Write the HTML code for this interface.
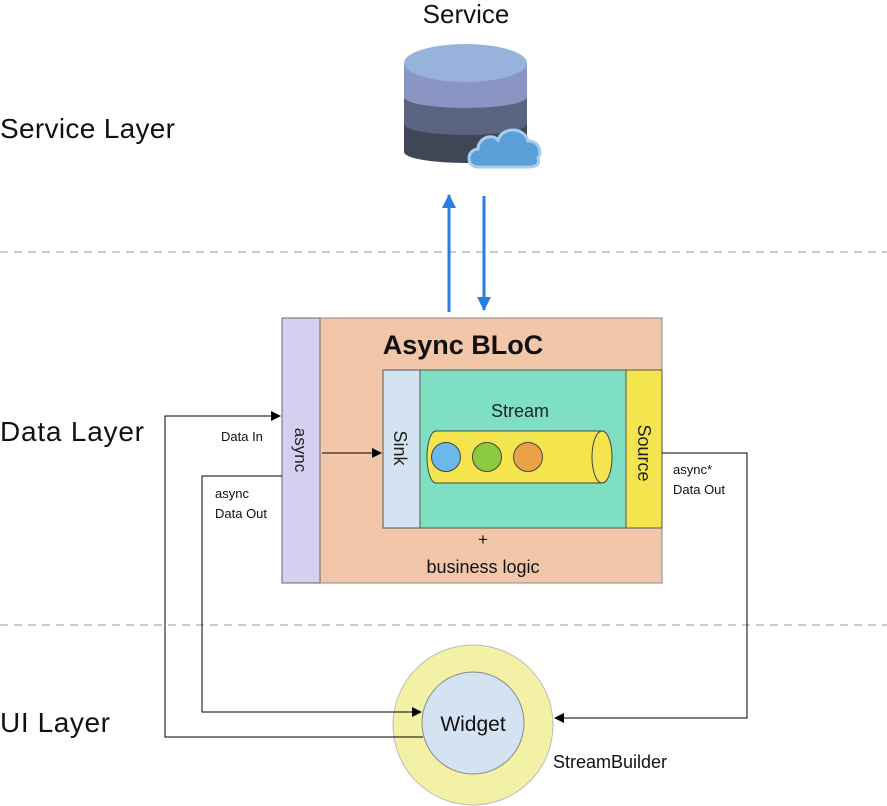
<!DOCTYPE html>
<html><head><meta charset="utf-8"><style>
body{margin:0;background:#fff}
svg{display:block}
text{font-family:"Liberation Sans",sans-serif}
</style></head><body>
<svg width="887" height="806" viewBox="0 0 887 806" xmlns="http://www.w3.org/2000/svg">
<defs>
<marker id="ab" markerWidth="10" markerHeight="10" refX="9" refY="5" orient="auto" markerUnits="userSpaceOnUse"><path d="M0,0 L10,5 L0,10 z" fill="#000"/></marker>
<marker id="abl" markerWidth="14" markerHeight="14" refX="13" refY="7" orient="auto" markerUnits="userSpaceOnUse"><path d="M0,0 L14,7 L0,14 z" fill="#2a7de1"/></marker>
</defs>
<line x1="0" y1="252" x2="887" y2="252" stroke="#999" stroke-dasharray="8,6"/>
<line x1="0" y1="625" x2="887" y2="625" stroke="#999" stroke-dasharray="8,6"/>
<text x="0" y="138" font-size="28" fill="#111" textLength="175">Service Layer</text>
<text x="0" y="441" font-size="28" fill="#111" textLength="144">Data Layer</text>
<text x="0" y="732" font-size="28" fill="#111" textLength="110">UI Layer</text>
<text x="466" y="23" font-size="26" text-anchor="middle" fill="#111">Service</text>
<!-- database -->
<path d="M404,124 L404,152 A61.5,11 0 0 0 527,152 L527,124 Z" fill="#3f4756"/>
<path d="M404,97 L404,124 A61.5,11 0 0 0 527,124 L527,97 Z" fill="#5a6480"/>
<path d="M404,63 L404,97 A61.5,11 0 0 0 527,97 L527,63 Z" fill="#8a95c4"/>
<ellipse cx="465.5" cy="63" rx="61.5" ry="19" fill="#97b3dc"/>
<path d="M478,167 C466,167 466,150 478,149 C478,138 492,133 498,140 C502,127 524,126 528,141 C538,140 543,152 538,158 C541,167 532,167 526,167 Z" fill="#5b9fd8" stroke="#aaccec" stroke-width="3"/>
<line x1="449" y1="312" x2="449" y2="195" stroke="#2a7de1" stroke-width="3" marker-end="url(#abl)"/>
<line x1="484" y1="196" x2="484" y2="310" stroke="#2a7de1" stroke-width="3" marker-end="url(#abl)"/>
<rect x="282" y="318" width="380" height="265" fill="#f2c6a8" stroke="#888"/>
<rect x="282" y="318" width="38" height="265" fill="#d6d0f0" stroke="#666"/>
<text transform="translate(295,450) rotate(90)" font-size="17" text-anchor="middle" fill="#222">async</text>
<text x="463" y="354" font-size="27" font-weight="bold" text-anchor="middle" fill="#111">Async BLoC</text>
<rect x="383" y="370" width="37" height="158" fill="#d3e3f1" stroke="#555"/>
<rect x="420" y="370" width="206" height="158" fill="#7fdfc3" stroke="#555"/>
<rect x="626" y="370" width="36" height="158" fill="#f4e44e" stroke="#555"/>
<text transform="translate(394,448) rotate(90)" font-size="18" text-anchor="middle" fill="#222">Sink</text>
<text transform="translate(638,453) rotate(90)" font-size="18" text-anchor="middle" fill="#222">Source</text>
<text x="520" y="417" font-size="18" text-anchor="middle" fill="#222">Stream</text>
<path d="M436,431 L602,431 L602,483 L436,483 A9,26 0 0 1 436,431 Z" fill="#f4e44e" stroke="#444"/>
<ellipse cx="602" cy="457" rx="10" ry="26" fill="#f4e44e" stroke="#444"/>
<circle cx="446" cy="457" r="14.5" fill="#6bb9ea" stroke="#444"/>
<circle cx="487" cy="457" r="14.5" fill="#8bc93e" stroke="#444"/>
<circle cx="528" cy="457" r="14.5" fill="#e9a146" stroke="#444"/>
<text x="483" y="545" font-size="17" text-anchor="middle" fill="#111">+</text>
<text x="483" y="573" font-size="18" text-anchor="middle" fill="#111">business logic</text>
<line x1="322" y1="453" x2="381" y2="453" stroke="#000" marker-end="url(#ab)"/>
<ellipse cx="473" cy="725" rx="80" ry="80" fill="#f3f1a6" stroke="#bbb"/>
<circle cx="473" cy="723" r="51" fill="#d3e3f1" stroke="#888"/>
<text x="473" y="731" font-size="21" text-anchor="middle" fill="#111">Widget</text>
<text x="553" y="768" font-size="18" fill="#111">StreamBuilder</text>
<polyline points="423,737 165,737 165,416 280,416" fill="none" stroke="#000" marker-end="url(#ab)"/>
<text x="221" y="441" font-size="13" fill="#111">Data In</text>
<polyline points="282,476 202,476 202,712 421,712" fill="none" stroke="#000" marker-end="url(#ab)"/>
<text x="215" y="498" font-size="13" font-family="Liberation Mono" fill="#111">async</text>
<text x="215" y="518" font-size="13" fill="#111">Data Out</text>
<polyline points="662,453 747,453 747,718 555,718" fill="none" stroke="#000" marker-end="url(#ab)"/>
<text x="673" y="474" font-size="13" font-family="Liberation Mono" fill="#111">async*</text>
<text x="673" y="494" font-size="13" fill="#111">Data Out</text>
</svg>
</body></html>
